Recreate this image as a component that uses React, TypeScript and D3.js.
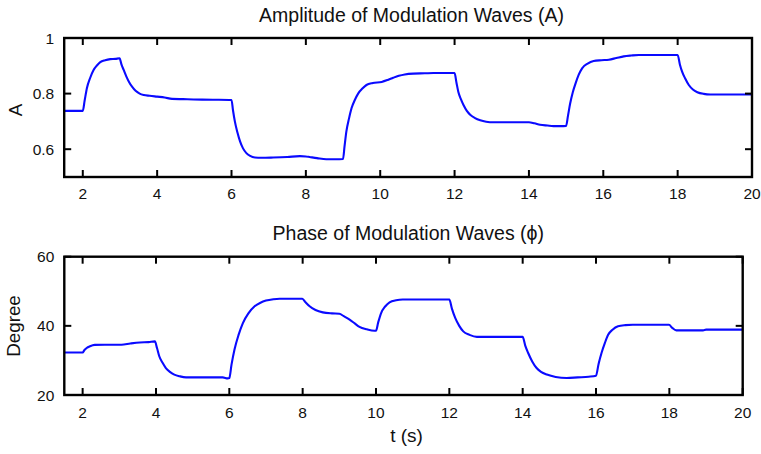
import React from "react";
import * as d3 from "d3";

const ampT = [1.5, 2.0, 2.05, 2.11, 2.2, 2.29, 2.38, 2.47, 2.6, 2.74, 2.88, 2.99, 3.04, 3.1, 3.17, 3.24, 3.33, 3.42, 3.53, 3.64, 3.8, 4.0, 4.2, 4.4, 4.7, 4.98, 5.5, 6.0,
  6.04, 6.09, 6.16, 6.23, 6.31, 6.4, 6.5, 6.63, 6.8, 7.12, 7.5, 7.84, 8.0, 8.1, 8.3, 8.55, 8.8, 9.0,
  9.04, 9.09, 9.16, 9.23, 9.32, 9.41, 9.52, 9.63, 9.8, 10.04, 10.2, 10.35, 10.5, 10.66, 10.89, 11.2, 11.43, 11.7, 12.0,
  12.05, 12.1, 12.17, 12.24, 12.33, 12.42, 12.55, 12.69, 12.85, 13.05, 13.5, 14.0, 14.15, 14.3, 14.5, 14.66, 14.85, 15.0,
  15.05, 15.11, 15.18, 15.25, 15.34, 15.43, 15.58, 15.74, 15.95, 16.15, 16.35, 16.55, 16.75, 16.96, 17.5, 18.0,
  18.06, 18.12, 18.2, 18.3, 18.41, 18.53, 18.7, 18.88, 19.3, 20.0];
const ampV = [0.738, 0.738, 0.775, 0.819, 0.857, 0.885, 0.901, 0.913, 0.92, 0.924, 0.925, 0.927, 0.905, 0.885, 0.862, 0.843, 0.824, 0.81, 0.8, 0.795, 0.792, 0.789, 0.786, 0.781, 0.78, 0.779, 0.778, 0.777,
  0.74, 0.7, 0.66, 0.628, 0.603, 0.586, 0.576, 0.57, 0.569, 0.57, 0.572, 0.575, 0.574, 0.572, 0.568, 0.564, 0.564, 0.565,
  0.61, 0.664, 0.71, 0.748, 0.778, 0.801, 0.818, 0.831, 0.838, 0.842, 0.849, 0.857, 0.864, 0.869, 0.872, 0.873, 0.874, 0.874, 0.874,
  0.84, 0.807, 0.78, 0.759, 0.738, 0.724, 0.712, 0.704, 0.699, 0.697, 0.697, 0.697, 0.693, 0.688, 0.685, 0.683, 0.683, 0.684,
  0.72, 0.765, 0.805, 0.835, 0.868, 0.891, 0.908, 0.917, 0.92, 0.922, 0.928, 0.934, 0.937, 0.939, 0.939, 0.939,
  0.905, 0.879, 0.855, 0.831, 0.815, 0.805, 0.799, 0.797, 0.797, 0.797];

const phaseT = [1.5, 2.0, 2.05, 2.11, 2.2, 2.33, 2.6, 3.06, 3.3, 3.56, 3.8, 3.97,
  4.03, 4.09, 4.18, 4.27, 4.38, 4.5, 4.65, 4.82, 5.3, 5.82, 5.96, 6.0,
  6.06, 6.14, 6.25, 6.37, 6.52, 6.69, 6.85, 7.0, 7.2, 7.37, 7.7, 7.99,
  8.08, 8.19, 8.35, 8.55, 8.8, 9.0, 9.12, 9.28, 9.42, 9.55, 9.75, 9.96, 10.0,
  10.06, 10.14, 10.25, 10.37, 10.55, 10.73, 11.3, 12.0,
  12.07, 12.16, 12.27, 12.38, 12.55, 12.75, 13.3, 14.0,
  14.07, 14.15, 14.26, 14.38, 14.5, 14.66, 14.9, 15.2, 15.5, 15.8, 16.0,
  16.07, 16.15, 16.24, 16.33, 16.45, 16.6, 16.8, 17.0, 17.5, 17.99,
  18.08, 18.19, 18.5, 18.92, 19.0, 19.5, 20.0];
const phaseV = [32.3, 32.3, 33.0, 33.6, 34.1, 34.5, 34.55, 34.55, 34.9, 35.2, 35.3, 35.5,
  33.5, 31.2, 29.3, 27.8, 26.7, 25.9, 25.4, 25.1, 25.1, 25.1, 24.8, 24.9,
  28.8, 33.1, 37.3, 40.8, 43.6, 45.65, 46.7, 47.3, 47.7, 47.85, 47.85, 47.85,
  46.8, 45.65, 44.6, 43.9, 43.6, 43.5, 42.8, 41.8, 40.7, 39.7, 39.0, 38.6, 38.6,
  41.0, 43.7, 45.6, 46.8, 47.4, 47.6, 47.6, 47.6,
  45.0, 42.3, 40.0, 38.4, 37.4, 36.8, 36.8, 36.8,
  34.3, 32.15, 29.7, 27.8, 26.7, 25.9, 25.2, 24.9, 25.1, 25.3, 25.6,
  29.0, 32.15, 35.0, 37.4, 38.9, 39.9, 40.2, 40.3, 40.3, 40.3,
  39.4, 38.7, 38.7, 38.7, 38.9, 38.9, 38.9];

const xTicks = [2, 4, 6, 8, 10, 12, 14, 16, 18, 20];
const ampTicks = [0.6, 0.8, 1];
const ampTickLabels = ["0.6", "0.8", "1"];
const phaseTicks = [20, 40, 60];
const phaseTickLabels = ["20", "40", "60"];

const FONT = "'Liberation Sans', Arial, Helvetica, sans-serif";

type PanelProps = {
  left: number; right: number; top: number; bottom: number;
  yDomain: [number, number];
  yTicks: number[]; yTickLabels: string[];
  t: number[]; v: number[];
  title: string; titleY: number; titleX: number;
  yLabel: string; yLabelX: number; yLabelY: number;
  xLabelBaseline: number;
};

function Panel(p: PanelProps) {
  const x = d3.scaleLinear().domain([1.5, 20]).range([p.left, p.right]);
  const y = d3.scaleLinear().domain(p.yDomain).range([p.bottom, p.top]);
  const pts = p.t.map((tt, i) => [tt, p.v[i]] as [number, number]);
  const line = d3.line<[number, number]>().x(d => x(d[0])).y(d => y(d[1])).curve(d3.curveMonotoneX);
  const tl = 7;
  return (
    <g>
      <text x={p.titleX} y={p.titleY} textAnchor="middle" fontFamily={FONT} fontSize={19.5} fill="#111">{p.title}</text>
      <text transform={`translate(${p.yLabelX},${p.yLabelY}) rotate(-90)`} textAnchor="middle" fontFamily={FONT} fontSize={18.8} fill="#111">{p.yLabel}</text>
      <path d={line(pts) || ""} fill="none" stroke="#0a0aff" strokeWidth={2.1} strokeLinejoin="round" />
      {xTicks.map(tk => (
        <g key={tk}>
          <line x1={x(tk)} x2={x(tk)} y1={p.bottom} y2={p.bottom - tl} stroke="#000" strokeWidth={2} />
          <line x1={x(tk)} x2={x(tk)} y1={p.top} y2={p.top + tl} stroke="#000" strokeWidth={2} />
          <text x={x(tk)} y={p.xLabelBaseline} textAnchor="middle" fontFamily={FONT} fontSize={15.5} fill="#111">{tk}</text>
        </g>
      ))}
      {p.yTicks.map((tk, i) => (
        <g key={tk}>
          <line x1={p.left} x2={p.left + tl} y1={y(tk)} y2={y(tk)} stroke="#000" strokeWidth={2} />
          <line x1={p.right} x2={p.right - tl} y1={y(tk)} y2={y(tk)} stroke="#000" strokeWidth={2} />
          <text x={p.left - 10} y={y(tk) + 5.5} textAnchor="end" fontFamily={FONT} fontSize={15.5} fill="#111">{p.yTickLabels[i]}</text>
        </g>
      ))}
      <rect x={p.left} y={p.top} width={p.right - p.left} height={p.bottom - p.top} fill="none" stroke="#000" strokeWidth={2.4} />
    </g>
  );
}

export default function App() {
  return (
    <svg width={761} height={454} style={{ position: "absolute", left: 0, top: 0, background: "#fff" }}>
      <rect width={761} height={454} fill="#fff" />
      <Panel left={64.2} right={752} top={38} bottom={177} yDomain={[0.5, 1]}
        yTicks={ampTicks} yTickLabels={ampTickLabels} t={ampT} v={ampV}
        title="Amplitude of Modulation Waves (A)" titleX={411.5} titleY={21.5}
        yLabel="A" yLabelX={21.5} yLabelY={110} xLabelBaseline={199} />
      <Panel left={64.3} right={742.7} top={256.7} bottom={395} yDomain={[20, 60]}
        yTicks={phaseTicks} yTickLabels={phaseTickLabels} t={phaseT} v={phaseV}
        title="Phase of Modulation Waves (ϕ)" titleX={408.3} titleY={240}
        yLabel="Degree" yLabelX={19.5} yLabelY={326} xLabelBaseline={418} />
      <text x={406.5} y={441.5} textAnchor="middle" fontFamily={FONT} fontSize={19} fill="#111">t (s)</text>
    </svg>
  );
}
